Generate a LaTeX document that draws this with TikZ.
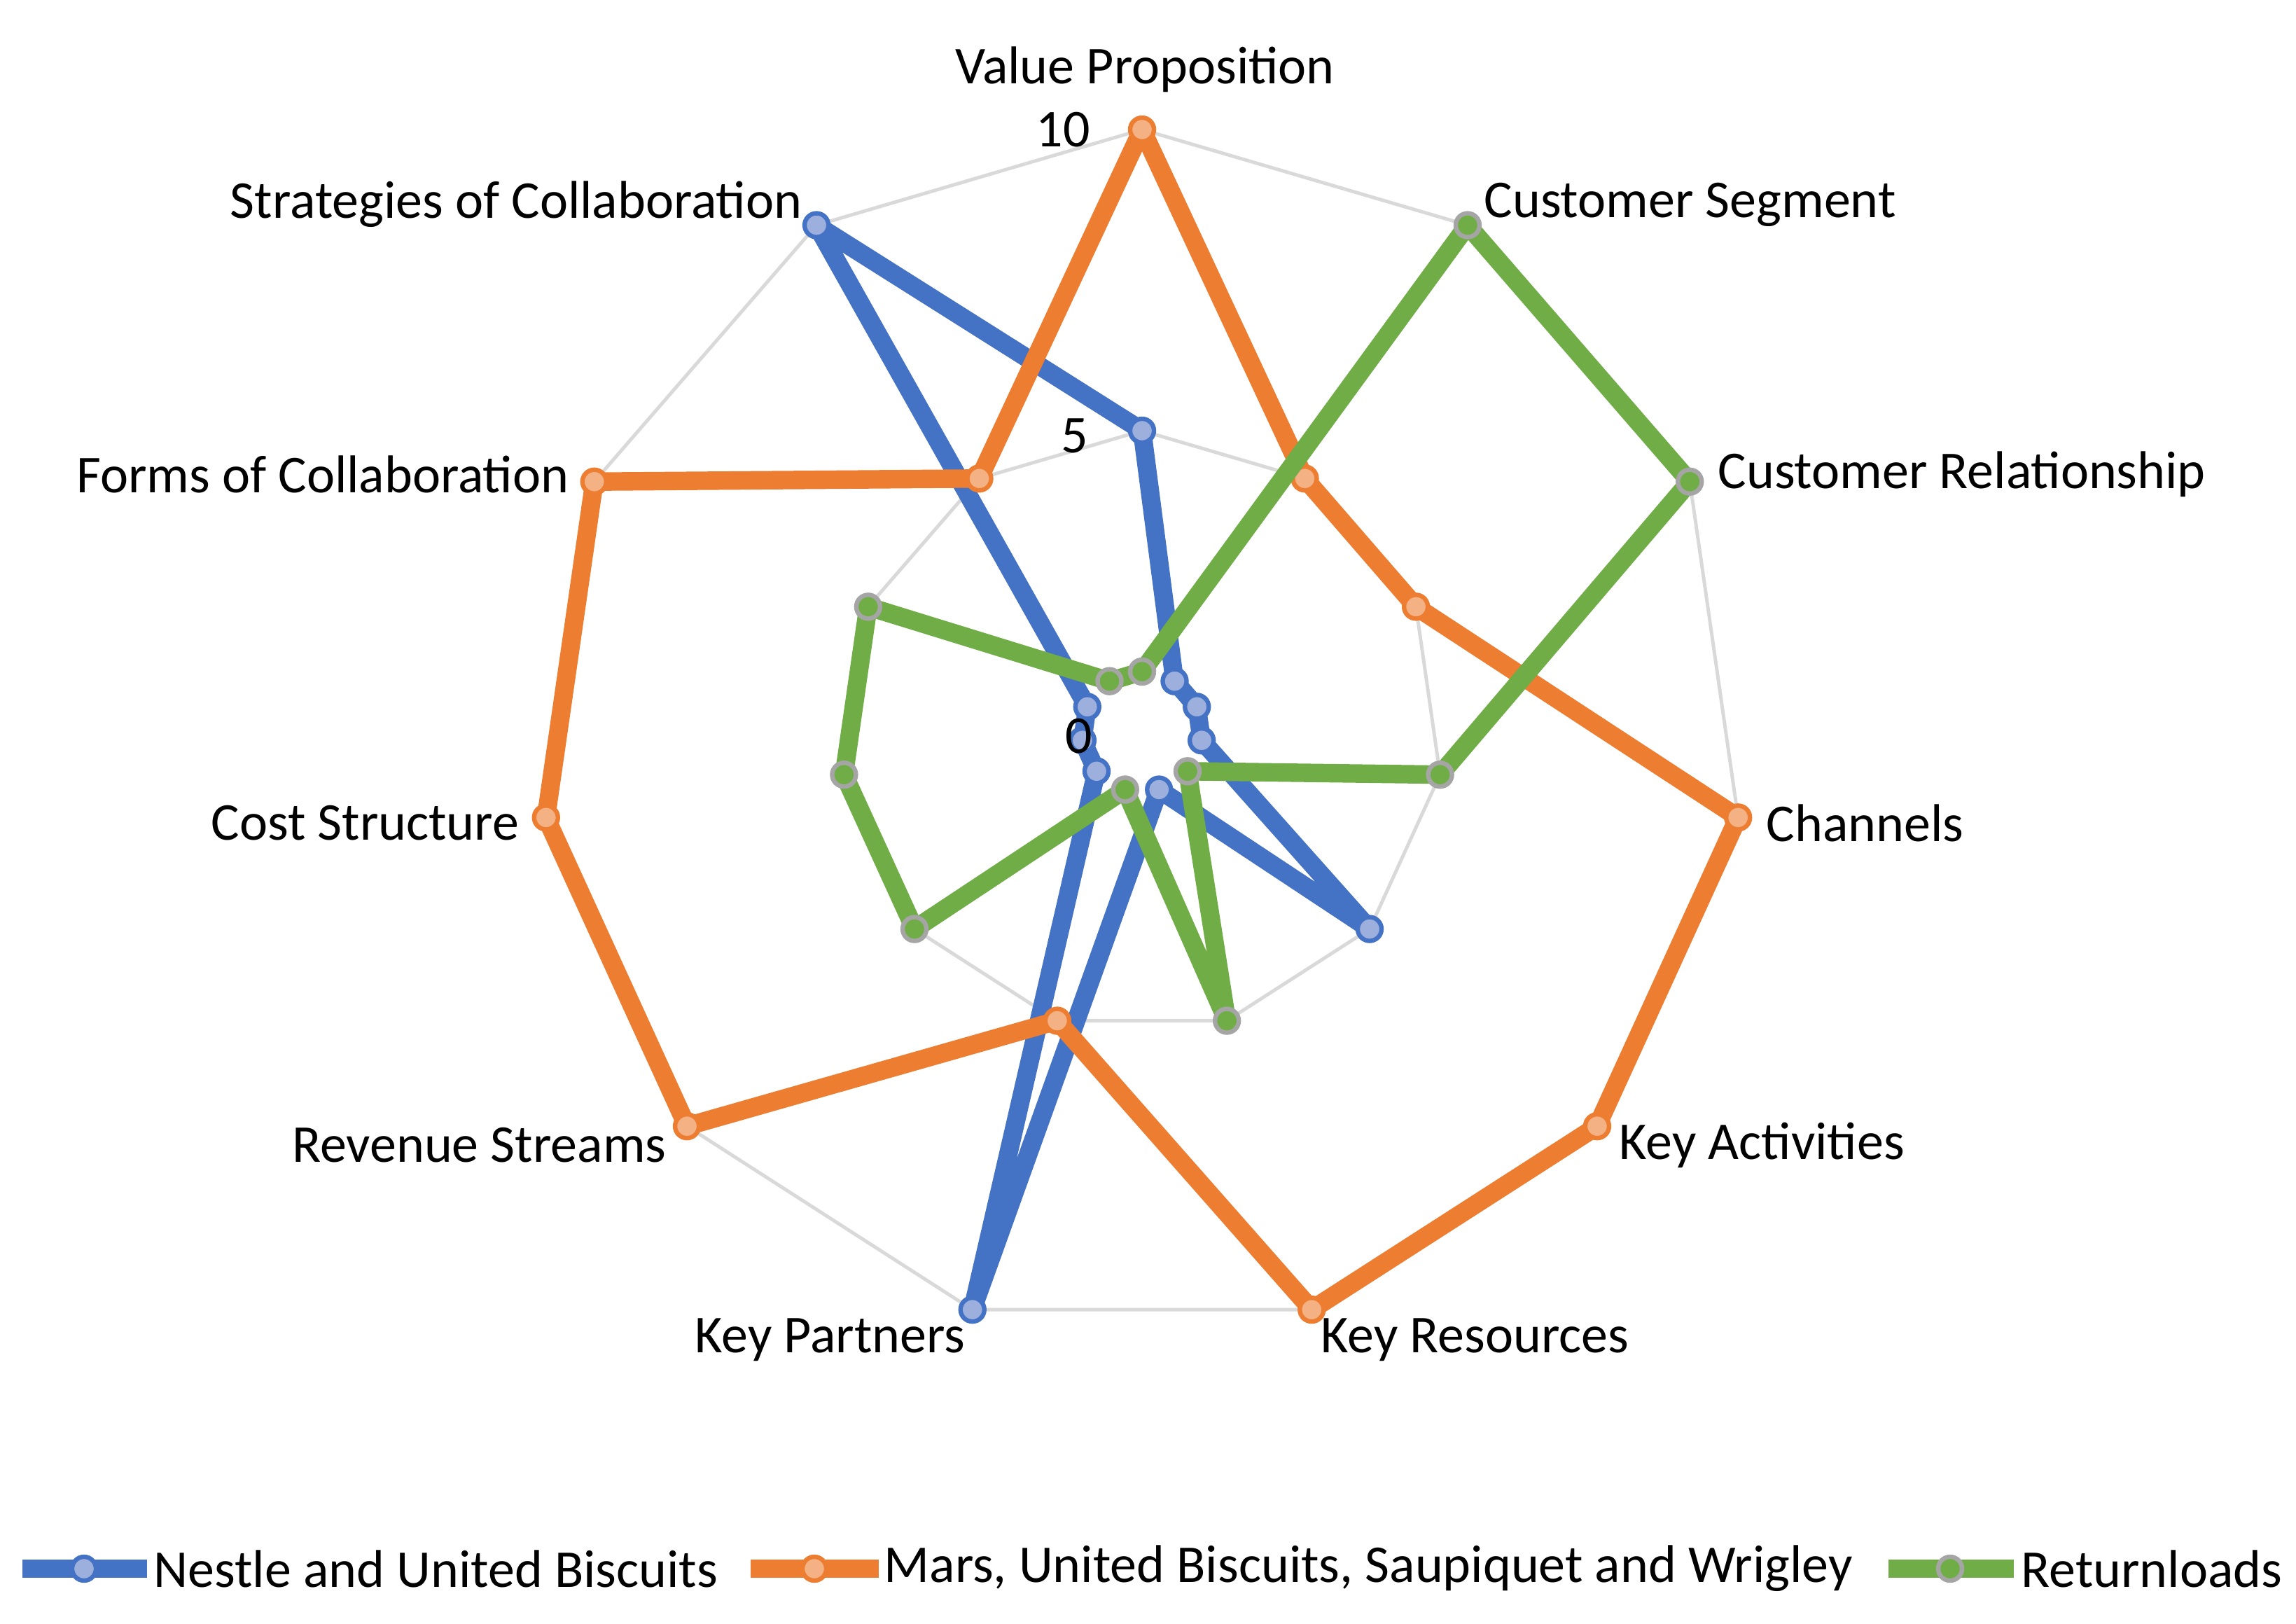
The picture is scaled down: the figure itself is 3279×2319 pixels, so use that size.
\documentclass[tikz,border=0pt]{standalone}
\usepackage{fontspec}
\setmainfont{Carlito}
\begin{document}
\begin{tikzpicture}[x=0.01cm,y=-0.01cm,
 lbl/.style={font=\fontsize{21.6}{24}\selectfont,inner sep=0pt},
 grid/.style={draw=black!15,line width=1.4pt},
 ser/.style={line width=7.5pt,line join=round},
 mk/.style={circle,minimum size=0.34cm,inner sep=0pt,line width=1.8pt}]
\useasboundingbox (0,0) rectangle (3279,2319);
\def\cx{1631}\def\cy{1045}\def\R{86}
\colorlet{bl}{rgb,255:red,68;green,114;blue,196}
\colorlet{blf}{rgb,255:red,157;green,176;blue,221}
\colorlet{or}{rgb,255:red,237;green,125;blue,49}
\colorlet{orf}{rgb,255:red,244;green,177;blue,131}
\colorlet{gr}{rgb,255:red,112;green,173;blue,71}
\colorlet{grr}{rgb,255:red,165;green,165;blue,165}
% grid
\foreach \i in {0,...,10}{
 \coordinate (p\i) at ({\cx+5*\R*sin(\i*360/11)},{\cy-5*\R*cos(\i*360/11)});
 \coordinate (q\i) at ({\cx+10*\R*sin(\i*360/11)},{\cy-10*\R*cos(\i*360/11)});}
\draw[grid] (p0)\foreach \i in {1,...,10}{--(p\i)}--cycle;
\draw[grid] (q0)\foreach \i in {1,...,10}{--(q\i)}--cycle;
% data
\foreach \v [count=\i from 0] in {5,1,1,1,5,1,10,1,1,1,10}{
 \coordinate (b\i) at ({\cx+\v*\R*sin(\i*360/11)},{\cy-\v*\R*cos(\i*360/11)});}
\foreach \v [count=\i from 0] in {10,5,5,10,10,10,5,10,10,10,5}{
 \coordinate (o\i) at ({\cx+\v*\R*sin(\i*360/11)},{\cy-\v*\R*cos(\i*360/11)});}
\foreach \v [count=\i from 0] in {1,10,10,5,1,5,1,5,5,5,1}{
 \coordinate (g\i) at ({\cx+\v*\R*sin(\i*360/11)},{\cy-\v*\R*cos(\i*360/11)});}
\draw[ser,draw=bl] (b0)\foreach \i in {1,...,10}{--(b\i)}--cycle;
\foreach \i in {0,...,10}{\node[mk,fill=blf,draw=bl] at (b\i){};}
\draw[ser,draw=or] (o0)\foreach \i in {1,...,10}{--(o\i)}--cycle;
\foreach \i in {0,...,10}{\node[mk,fill=orf,draw=or] at (o\i){};}
\draw[ser,draw=gr] (g0)\foreach \i in {1,...,10}{--(g\i)}--cycle;
\foreach \i in {0,...,10}{\node[mk,fill=gr,draw=grr] at (g\i){};}
% axis values
\node[lbl] (t10) at (1518,185) {10};
\node[lbl] (t5) at (1535,622) {5};
\node[lbl] (t0) at (1541,1051) {0};
% category labels
\node[lbl] (vp) at (1635,99) {Value Proposition};
\node[lbl,anchor=west] (cs) at (2119,292) {Customer Segment};
\node[lbl,anchor=west] (cr) at (2453,677) {Customer Relationship};
\node[lbl,anchor=west] (ch) at (2522,1175) {Channels};
\node[lbl,anchor=west] (ka) at (2312,1635) {Key Activities};
\node[lbl,anchor=west] (kr) at (1886,1913) {Key Resources};
\node[lbl,anchor=east] (kp) at (1379,1913) {Key Partners};
\node[lbl,anchor=east] (rs) at (952,1635) {Revenue Streams};
\node[lbl,anchor=east] (cst) at (742,1175) {Cost Structure};
\node[lbl,anchor=east] (fc) at (813,677) {Forms of Collaboration};
\node[lbl,anchor=east] (sc) at (1146,292) {Strategies of Collaboration};
% legend
\coordinate (l1a) at (32,2240); \coordinate (l1b) at (210,2240);
\draw[ser,draw=bl] (l1a)--(l1b); \node[mk,fill=blf,draw=bl] (m1) at (120,2240){};
\node[lbl,anchor=west] (lt1) at (219,2240) {Nestle and United Biscuits};
\coordinate (l2a) at (1072,2240); \coordinate (l2b) at (1255,2240);
\draw[ser,draw=or] (l2a)--(l2b); \node[mk,fill=orf,draw=or] (m2) at (1163,2240){};
\node[lbl,anchor=west] (lt2) at (1262,2240) {Mars, United Biscuits, Saupiquet and Wrigley};
\coordinate (l3a) at (2697,2240); \coordinate (l3b) at (2876,2240);
\draw[ser,draw=gr] (l3a)--(l3b); \node[mk,fill=gr,draw=grr] (m3) at (2785,2240){};
\node[lbl,anchor=west] (lt3) at (2886,2240) {Returnloads};
\end{tikzpicture}
\end{document}
